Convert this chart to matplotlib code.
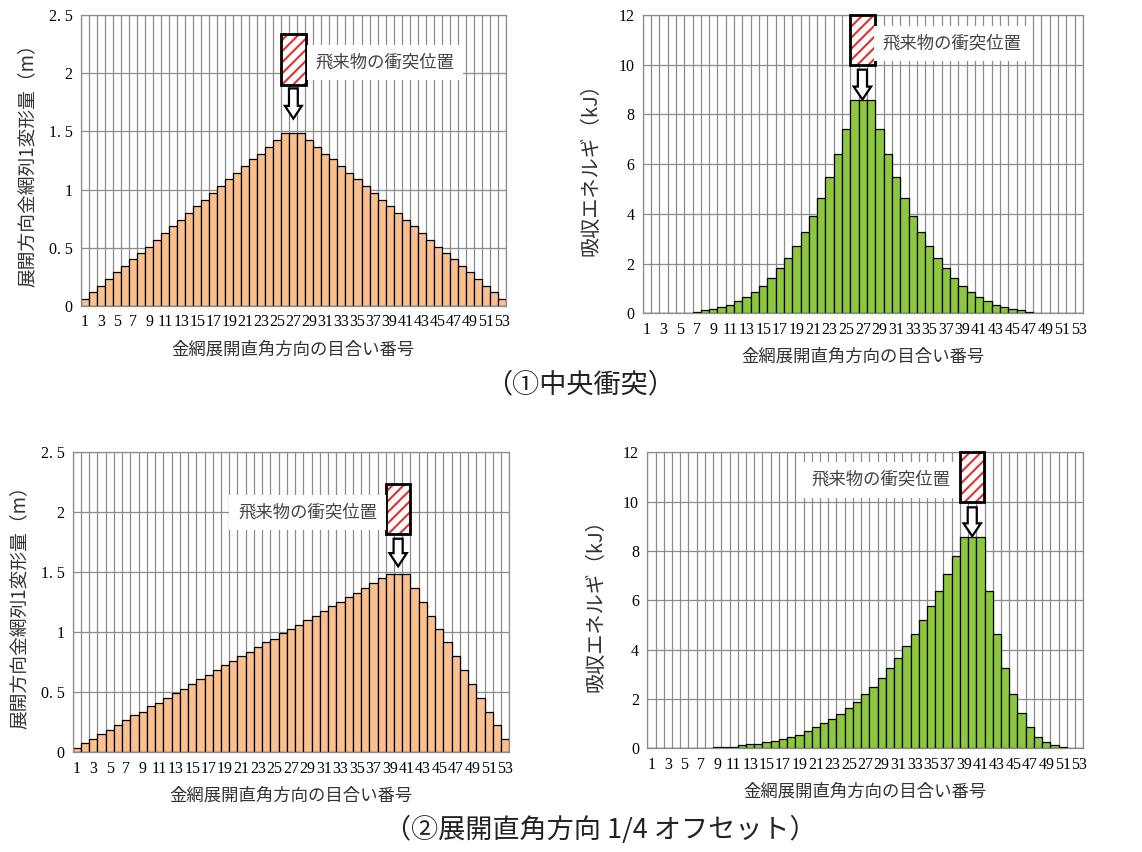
import matplotlib
matplotlib.use('Agg')
import matplotlib.pyplot as plt
from matplotlib.patches import Rectangle, FancyArrow

plt.rcParams['font.family'] = ['Noto Sans CJK JP', 'DejaVu Sans']
plt.rcParams['hatch.linewidth'] = 1.5

mesh_no = list(range(1, 54))
tick_nos = list(range(1, 54, 2))

deform_center = [0.06, 0.12, 0.17, 0.23, 0.29, 0.34, 0.40, 0.46, 0.51, 0.57,
                 0.63, 0.69, 0.74, 0.80, 0.86, 0.91, 0.97, 1.03, 1.09, 1.14,
                 1.20, 1.26, 1.31, 1.37, 1.43, 1.49, 1.49, 1.49, 1.43, 1.37,
                 1.31, 1.26, 1.20, 1.14, 1.09, 1.03, 0.97, 0.91, 0.86, 0.80,
                 0.74, 0.69, 0.63, 0.57, 0.51, 0.46, 0.40, 0.34, 0.29, 0.23,
                 0.17, 0.12, 0.06]

energy_center = [0, 0, 0, 0, 0, 0, 0.07, 0.12, 0.17, 0.24,
                 0.34, 0.48, 0.64, 0.84, 1.10, 1.41, 1.81, 2.21, 2.71, 3.26,
                 3.91, 4.62, 5.50, 6.41, 7.40, 8.58, 8.58, 8.58, 7.40, 6.41,
                 5.50, 4.62, 3.91, 3.26, 2.71, 2.21, 1.81, 1.41, 1.10, 0.84,
                 0.64, 0.48, 0.34, 0.24, 0.17, 0.12, 0.07, 0, 0, 0,
                 0, 0, 0]

deform_offset = [0.033, 0.075, 0.108, 0.15, 0.19, 0.228, 0.267, 0.308, 0.339, 0.383,
                 0.414, 0.456, 0.494, 0.53, 0.569, 0.614, 0.644, 0.686, 0.728, 0.758,
                 0.80, 0.833, 0.875, 0.917, 0.947, 0.994, 1.03, 1.061, 1.103, 1.136,
                 1.178, 1.219, 1.25, 1.294, 1.33, 1.367, 1.408, 1.45, 1.486, 1.486,
                 1.486, 1.367, 1.25, 1.136, 1.03, 0.917, 0.80, 0.686, 0.569, 0.456,
                 0.339, 0.228, 0.108]

energy_offset = [0, 0, 0, 0, 0, 0, 0, 0, 0.05, 0.05,
                 0.07, 0.12, 0.16, 0.16, 0.26, 0.31, 0.36, 0.46, 0.55, 0.70,
                 0.85, 1.01, 1.18, 1.41, 1.64, 1.89, 2.19, 2.50, 2.85, 3.26,
                 3.68, 4.14, 4.65, 5.20, 5.77, 6.38, 7.08, 7.81, 8.58, 8.58,
                 8.58, 6.38, 4.65, 3.26, 2.19, 1.42, 0.88, 0.47, 0.26, 0.12,
                 0.05, 0, 0]

deform_ticks = [0, 0.5, 1, 1.5, 2, 2.5]
deform_ticklabels = ['0', '0. 5', '1', '1. 5', '2', '2. 5']
energy_ticks = [0, 2, 4, 6, 8, 10, 12]

xlabel = '金網展開直角方向の目合い番号'
ylabel_deform = '展開方向金網列1変形量（m）'
ylabel_energy = '吸収エネルギ（kJ）'
note = '飛来物の衝突位置'
title1 = '（①中央衝突）'
title2 = '（②展開直角方向 1/4 オフセット）'

orange = '#FAC090'
green = '#8DC63F'
grid_c = '#8c8c8c'

fig = plt.figure(figsize=(11.42, 8.52), dpi=100)


def draw_panel(rect, values, color, yticks, yticklabels, ylabel, ymax,
               box, arrow, text_xy, head_len, labelpad, ylabel_size):
    ax = fig.add_axes(rect)
    ax.bar(mesh_no, values, width=1.0, color=color, edgecolor='black',
           linewidth=0.9, zorder=2)
    ax.set_xlim(0.5, 53.5)
    ax.set_ylim(0, ymax)
    ax.set_xticks(tick_nos)
    ax.set_xticklabels([str(t) for t in tick_nos], family='Liberation Serif',
                       fontsize=11.5)
    ax.set_xticks([i + 0.5 for i in range(0, 54)], minor=True)
    ax.set_yticks(yticks)
    ax.set_yticklabels(yticklabels, family='Liberation Serif', fontsize=11.5)
    ax.tick_params(axis='both', which='both', length=0, pad=6)
    ax.grid(axis='x', which='minor', color=grid_c, linewidth=0.9, zorder=0)
    ax.grid(axis='y', which='major', color=grid_c, linewidth=0.9, zorder=0)
    ax.set_axisbelow(True)
    for s in ax.spines.values():
        s.set_color(grid_c)
        s.set_linewidth(0.9)
    ax.set_xlabel(xlabel, fontsize=12.5, color='#333333', labelpad=7)
    ax.set_ylabel(ylabel, fontsize=ylabel_size, color='#333333',
                  labelpad=labelpad)

    # impact marker
    x0, x1, y0, y1 = box
    ax.add_patch(Rectangle((x0, y0), x1 - x0, y1 - y0, facecolor='white',
                           edgecolor='#e03030', hatch='///', linewidth=0,
                           zorder=4, clip_on=False))
    ax.add_patch(Rectangle((x0, y0), x1 - x0, y1 - y0, facecolor='none',
                           edgecolor='black', linewidth=2, zorder=5,
                           clip_on=False))
    xc = (x0 + x1) / 2
    ya, yb = arrow
    ax.add_patch(FancyArrow(xc, ya, 0, yb - ya, width=1.1, head_width=2.1,
                            head_length=head_len, length_includes_head=True,
                            facecolor='white', edgecolor='black',
                            linewidth=1.6, zorder=5))
    ax.text(text_xy[0], text_xy[1], note, ha='center', va='center',
            fontsize=12.5, color='#444444', zorder=6,
            bbox=dict(boxstyle='square,pad=0.5', facecolor='white',
                      edgecolor='none'))
    return ax


draw_panel([0.0709, 0.6408, 0.372, 0.3415], deform_center, orange,
           deform_ticks, deform_ticklabels, ylabel_deform, 2.5,
           (25.45, 28.55, 1.90, 2.34), (1.87, 1.61), (38.4, 2.09), 0.11,
           8, 13.5)
draw_panel([0.5628, 0.6323, 0.3855, 0.3501], energy_center, green,
           energy_ticks, [str(t) for t in energy_ticks], ylabel_energy, 12,
           (25.45, 28.45, 10.0, 12.0), (9.8, 8.6), (37.75, 10.86), 0.52,
           12, 14.5)
draw_panel([0.0637, 0.1170, 0.3823, 0.3521], deform_offset, orange,
           deform_ticks, deform_ticklabels, ylabel_deform, 2.5,
           (38.55, 41.45, 1.82, 2.24), (1.78, 1.55), (29.0, 2.0), 0.11,
           8, 13.5)
draw_panel([0.5668, 0.1217, 0.3818, 0.3474], energy_offset, green,
           energy_ticks, [str(t) for t in energy_ticks], ylabel_energy, 12,
           (38.55, 41.45, 10.0, 12.0), (9.77, 8.6), (28.9, 10.88), 0.52,
           12, 14.5)

fig.text(580 / 1142, 1 - 385 / 852, title1, ha='center', va='center',
         fontsize=19.5, color='#222222')
fig.text(600 / 1142, 1 - 830 / 852, title2, ha='center', va='center',
         fontsize=19.5, color='#222222')

fig.savefig('out.png', dpi=100)
